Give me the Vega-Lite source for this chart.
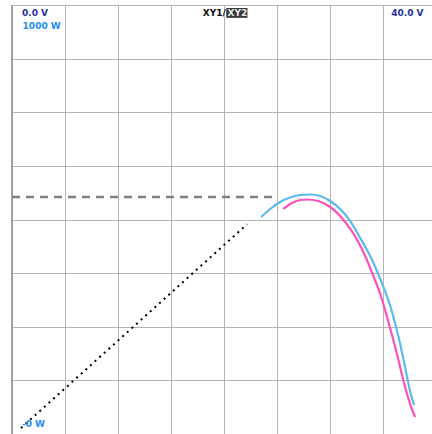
{
  "$schema": "https://vega.github.io/schema/vega-lite/v6.json",
  "width": 420,
  "height": 429,
  "autosize": {"type": "none"},
  "padding": {"left": 12, "top": 5, "right": 0, "bottom": 0},
  "background": "white",
  "config": {"view": {"stroke": null}},
  "datasets": {
    "curves": [
      {"s": "XY1", "v": 23.49, "p": 505.8}, {"s": "XY1", "v": 24.34, "p": 524.5}, {"s": "XY1", "v": 25.28, "p": 540.8},
      {"s": "XY1", "v": 26.23, "p": 551.3}, {"s": "XY1", "v": 27.17, "p": 557.1}, {"s": "XY1", "v": 28.11, "p": 558.3},
      {"s": "XY1", "v": 29.06, "p": 554.8}, {"s": "XY1", "v": 30.0, "p": 543.1}, {"s": "XY1", "v": 30.94, "p": 524.5},
      {"s": "XY1", "v": 31.89, "p": 496.5}, {"s": "XY1", "v": 32.83, "p": 456.9}, {"s": "XY1", "v": 33.77, "p": 414.9},
      {"s": "XY1", "v": 34.72, "p": 361.3}, {"s": "XY1", "v": 35.66, "p": 298.4}, {"s": "XY1", "v": 36.6, "p": 209.8},
      {"s": "XY1", "v": 37.08, "p": 153.8}, {"s": "XY1", "v": 37.55, "p": 97.9}, {"s": "XY1", "v": 37.92, "p": 67.6},
      {"s": "XY2", "v": 25.57, "p": 524.5}, {"s": "XY2", "v": 26.23, "p": 536.1}, {"s": "XY2", "v": 27.17, "p": 545.5},
      {"s": "XY2", "v": 27.83, "p": 546.6}, {"s": "XY2", "v": 28.87, "p": 543.1}, {"s": "XY2", "v": 30.0, "p": 529.1},
      {"s": "XY2", "v": 30.94, "p": 508.2}, {"s": "XY2", "v": 31.89, "p": 477.9}, {"s": "XY2", "v": 32.55, "p": 452.2},
      {"s": "XY2", "v": 33.3, "p": 414.9}, {"s": "XY2", "v": 33.96, "p": 375.3}, {"s": "XY2", "v": 34.72, "p": 326.3},
      {"s": "XY2", "v": 35.57, "p": 254.1}, {"s": "XY2", "v": 36.32, "p": 184.2}, {"s": "XY2", "v": 36.89, "p": 125.9},
      {"s": "XY2", "v": 37.36, "p": 83.9}, {"s": "XY2", "v": 37.74, "p": 55.9}, {"s": "XY2", "v": 38.02, "p": 39.6}
    ],
    "dotted": [{"v": 0.85, "p": 14}, {"v": 22.17, "p": 489}],
    "dashed": [{"v": 0, "p": 552.5}, {"v": 25, "p": 552.5}],
    "border": [{"v": 0, "p": 0}, {"v": 0, "p": 1000}],
    "hl": [{"v": 20.2, "v2": 22.2, "p": 993, "p2": 970}]
  },
  "encoding": {
    "x": {"field": "v", "type": "quantitative", "scale": {"domain": [0, 39.6], "nice": false, "zero": false},
      "axis": {"values": [0, 5, 10, 15, 20, 25, 30, 35], "labels": false, "ticks": false, "domain": false, "title": null, "grid": true, "gridColor": "#b4b4b4", "gridWidth": 1}},
    "y": {"field": "p", "type": "quantitative", "scale": {"domain": [0, 1000], "nice": false},
      "axis": {"values": [125, 250, 375, 500, 625, 750, 875, 1000], "labels": false, "ticks": false, "domain": false, "title": null, "grid": true, "gridColor": "#b4b4b4", "gridWidth": 1}}
  },
  "layer": [
    {"data": {"name": "border"}, "mark": {"type": "line", "color": "#8c8c8c", "strokeWidth": 1.5}},
    {"data": {"name": "dashed"}, "mark": {"type": "line", "color": "#7f7f7f", "strokeWidth": 2.5, "strokeDash": [8, 6]}},
    {"data": {"name": "dotted"}, "mark": {"type": "line", "color": "#000000", "strokeWidth": 2, "strokeDash": [2, 4.2]}},
    {"data": {"name": "curves"}, "mark": {"type": "line", "strokeWidth": 2.2, "interpolate": "monotone"},
      "encoding": {"color": {"field": "s", "type": "nominal", "scale": {"domain": ["XY1", "XY2"], "range": ["#5cb8f2", "#ff4fb9"]}, "legend": null},
        "order": {"field": "v", "type": "quantitative"}}},
    {"data": {"values": [{"t": "0.0 V", "v": 0.94, "p": 982}]},
      "mark": {"type": "text", "font": "DejaVu Sans", "fontWeight": "bold", "fontSize": 9, "baseline": "middle", "align": "left", "color": "#1f2f9e"},
      "encoding": {"text": {"field": "t"}}},
    {"data": {"values": [{"t": "40.0 V", "v": 38.8, "p": 981}]},
      "mark": {"type": "text", "font": "DejaVu Sans", "fontWeight": "bold", "fontSize": 9, "baseline": "middle", "align": "right", "color": "#1f2f9e"},
      "encoding": {"text": {"field": "t"}}},
    {"data": {"values": [{"t": "1000 W", "v": 1.0, "p": 952}, {"t": "-0 W", "v": 0.94, "p": 23}]},
      "mark": {"type": "text", "font": "DejaVu Sans", "fontWeight": "bold", "fontSize": 9, "baseline": "middle", "align": "left", "color": "#1e8cf0"},
      "encoding": {"text": {"field": "t"}}},
    {"data": {"values": [{"t": "XY1/", "v": 20.15, "p": 981}]},
      "mark": {"type": "text", "font": "DejaVu Sans", "fontWeight": "bold", "fontSize": 9, "baseline": "middle", "align": "right", "color": "#111111"},
      "encoding": {"text": {"field": "t"}}},
    {"data": {"name": "hl"}, "mark": {"type": "rect", "color": "#3a3a3a"},
      "encoding": {"x2": {"field": "v2"}, "y2": {"field": "p2"}}},
    {"data": {"values": [{"t": "XY2", "v": 21.25, "p": 981}]},
      "mark": {"type": "text", "font": "DejaVu Sans", "fontWeight": "bold", "fontSize": 9, "baseline": "middle", "align": "center", "color": "#e8e8e8"},
      "encoding": {"text": {"field": "t"}}}
  ]
}
